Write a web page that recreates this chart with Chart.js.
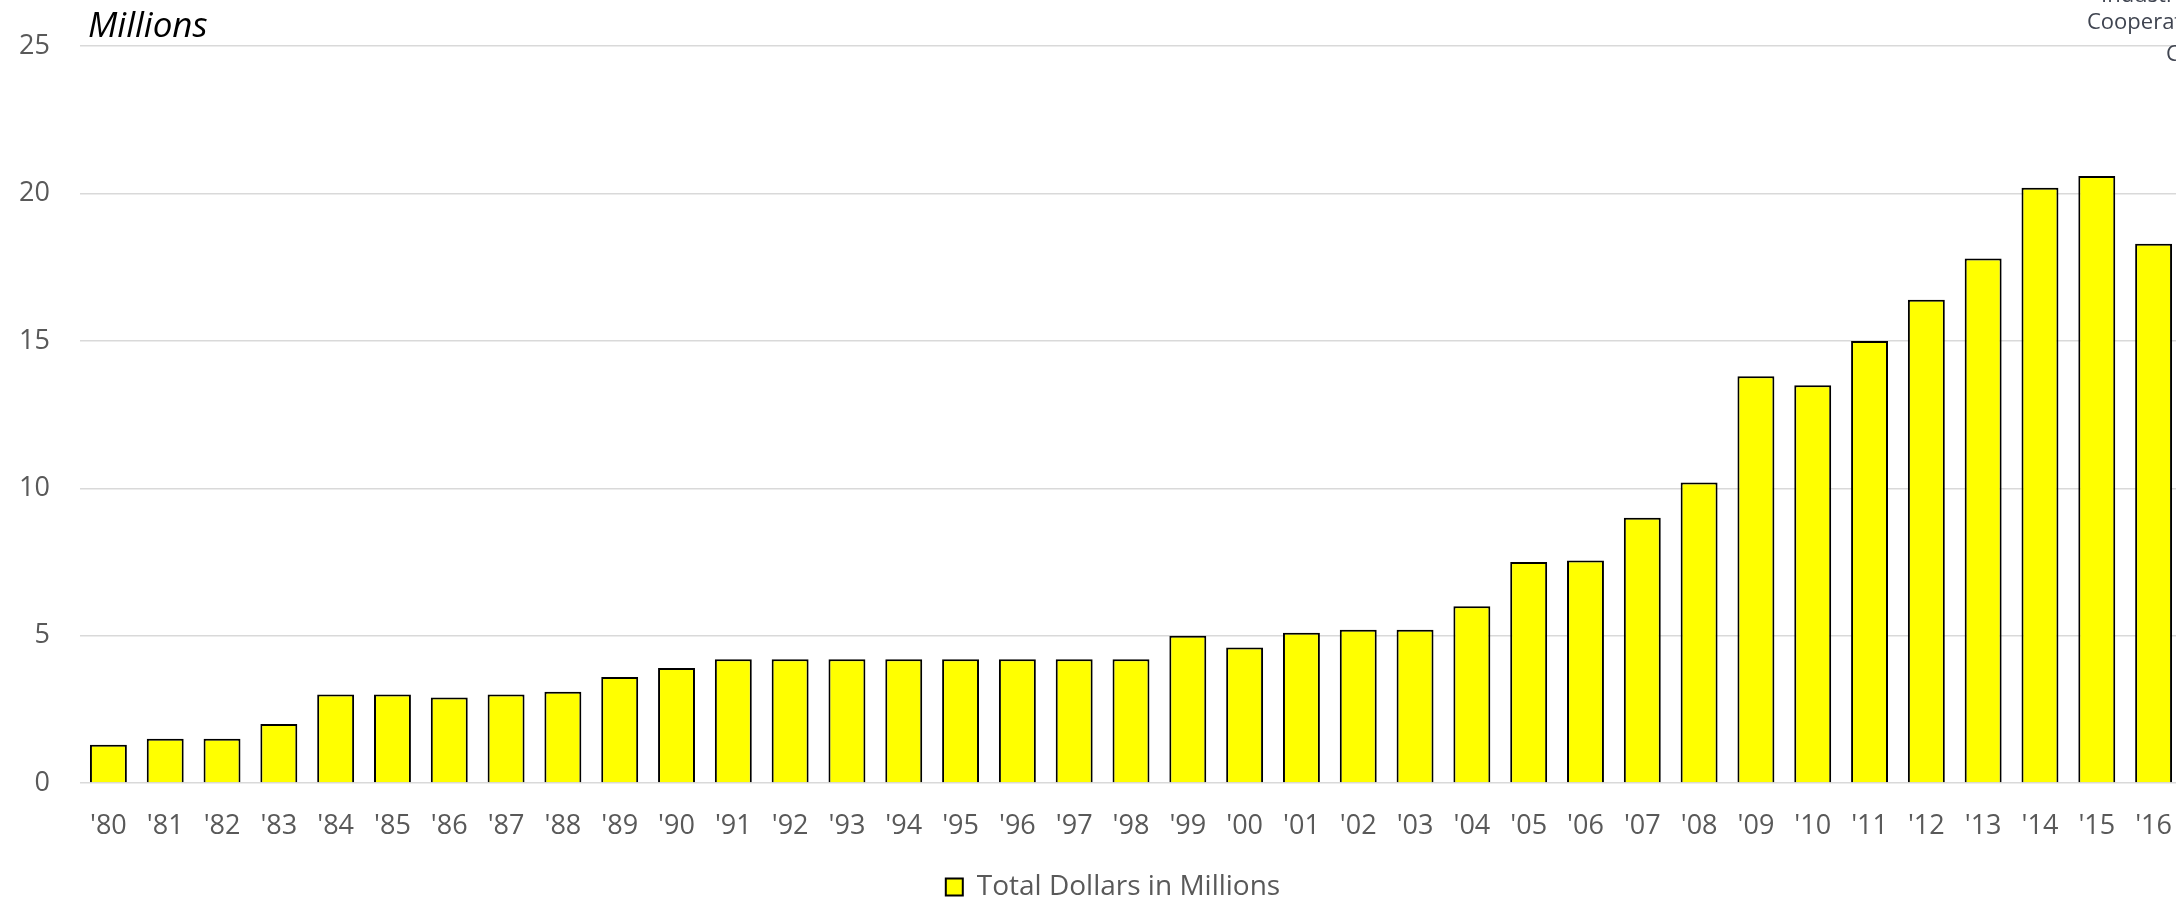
<!DOCTYPE html>
<html>
<head>
<meta charset="utf-8">
<title>Total Dollars in Millions</title>
<script src="https://cdn.jsdelivr.net/npm/chart.js@4.4.1/dist/chart.umd.min.js"></script>
<style>
  html, body { margin: 0; padding: 0; background: #fff; overflow: hidden; }
  #wrap { width: 2222px; height: 898px; }
</style>
</head>
<body>
<div id="wrap"><canvas id="dollarsChart" width="2222" height="898"></canvas></div>
<script>
// fiscal years, shown as two digit labels
const years = ["'80", "'81", "'82", "'83", "'84", "'85", "'86", "'87", "'88", "'89",
  "'90", "'91", "'92", "'93", "'94", "'95", "'96", "'97", "'98", "'99",
  "'00", "'01", "'02", "'03", "'04", "'05", "'06", "'07", "'08", "'09",
  "'10", "'11", "'12", "'13", "'14", "'15", "'16"];

// total dollars, in millions
const totals = [1.3, 1.5, 1.5, 2.0, 3.0, 3.0, 2.9, 3.0, 3.1, 3.6,
  3.9, 4.2, 4.2, 4.2, 4.2, 4.2, 4.2, 4.2, 4.2, 5.0,
  4.6, 5.1, 5.2, 5.2, 6.0, 7.5, 7.55, 9.0, 10.2, 13.8,
  13.5, 15.0, 16.4, 17.8, 20.2, 20.6, 18.3];

const yTicks = [0, 5, 10, 15, 20, 25];
const seriesName = "Total Dollars in Millions";
const unitLabel = "Millions";
const cornerNote = ["Industrial", "Cooperative", "Center"];

const labelGrey = "#595959";

// draws the "Millions" unit label and the clipped note in the top right corner
const notesPlugin = {
  id: "notes",
  afterLayout(chart) {
    // the legend in the original sits a bit right of the canvas centre
    if (chart.legend) {
      chart.legend.left += 12;
      chart.legend.right += 12;
    }
  },
  afterDraw(chart) {
    const ctx = chart.ctx;
    ctx.save();
    ctx.textAlign = "left";
    ctx.textBaseline = "alphabetic";
    ctx.fillStyle = "#000";
    ctx.font = 'italic 35px "Open Sans"';
    ctx.fillText(unitLabel, chart.chartArea.left + 8, 37);

    ctx.fillStyle = "#3f4450";
    ctx.font = '22px "Open Sans"';
    ctx.fillText(cornerNote[0], 2101, 2);
    ctx.fillText(cornerNote[1], 2087, 29);
    ctx.fillText(cornerNote[2], 2166, 61);
    ctx.restore();
  }
};

function setupChart() {
  const ctx = document.getElementById("dollarsChart").getContext("2d");
  return new Chart(ctx, {
    type: "bar",
    data: {
      labels: years,
      datasets: [{
        label: seriesName,
        data: totals,
        backgroundColor: "#ffff00",
        borderColor: "#000000",
        borderWidth: 2,
        borderSkipped: "bottom",
        barPercentage: 0.65,
        categoryPercentage: 1.0
      }]
    },
    options: {
      responsive: false,
      animation: false,
      // the plot runs a little past the right edge of the window, like the original
      // negative bottom padding lets the legend sit lower
      layout: { padding: { left: 20, right: 40, top: 46, bottom: -13 } },
      scales: {
        x: {
          grid: { display: false, drawTicks: false },
          border: { display: false },
          ticks: {
            color: labelGrey,
            font: { family: "Open Sans", size: 27 },
            padding: 27,
            autoSkip: false,
            maxRotation: 0,
            minRotation: 0
          },
          afterFit: (scale) => { scale.height = 80; }
        },
        y: {
          min: 0,
          max: 25,
          afterBuildTicks: (scale) => { scale.ticks = yTicks.map(v => ({ value: v })); },
          grid: { color: "#d9d9d9", lineWidth: 1.5, drawTicks: false },
          border: { display: false },
          ticks: {
            color: labelGrey,
            font: { family: "Open Sans", size: 27 },
            padding: 30
          },
          afterFit: (scale) => { scale.width = 60; }
        }
      },
      plugins: {
        legend: {
          position: "bottom",
          labels: {
            color: labelGrey,
            font: { family: "Open Sans", size: 28 },
            boxWidth: 17,
            boxHeight: 17,
            padding: 10
          }
        },
        tooltip: { enabled: false }
      }
    },
    plugins: [notesPlugin]
  });
}

document.fonts.load('27px "Open Sans"').then(() => {
  return document.fonts.load('italic 35px "Open Sans"');
}).catch(() => {}).then(setupChart);
</script>
</body>
</html>
